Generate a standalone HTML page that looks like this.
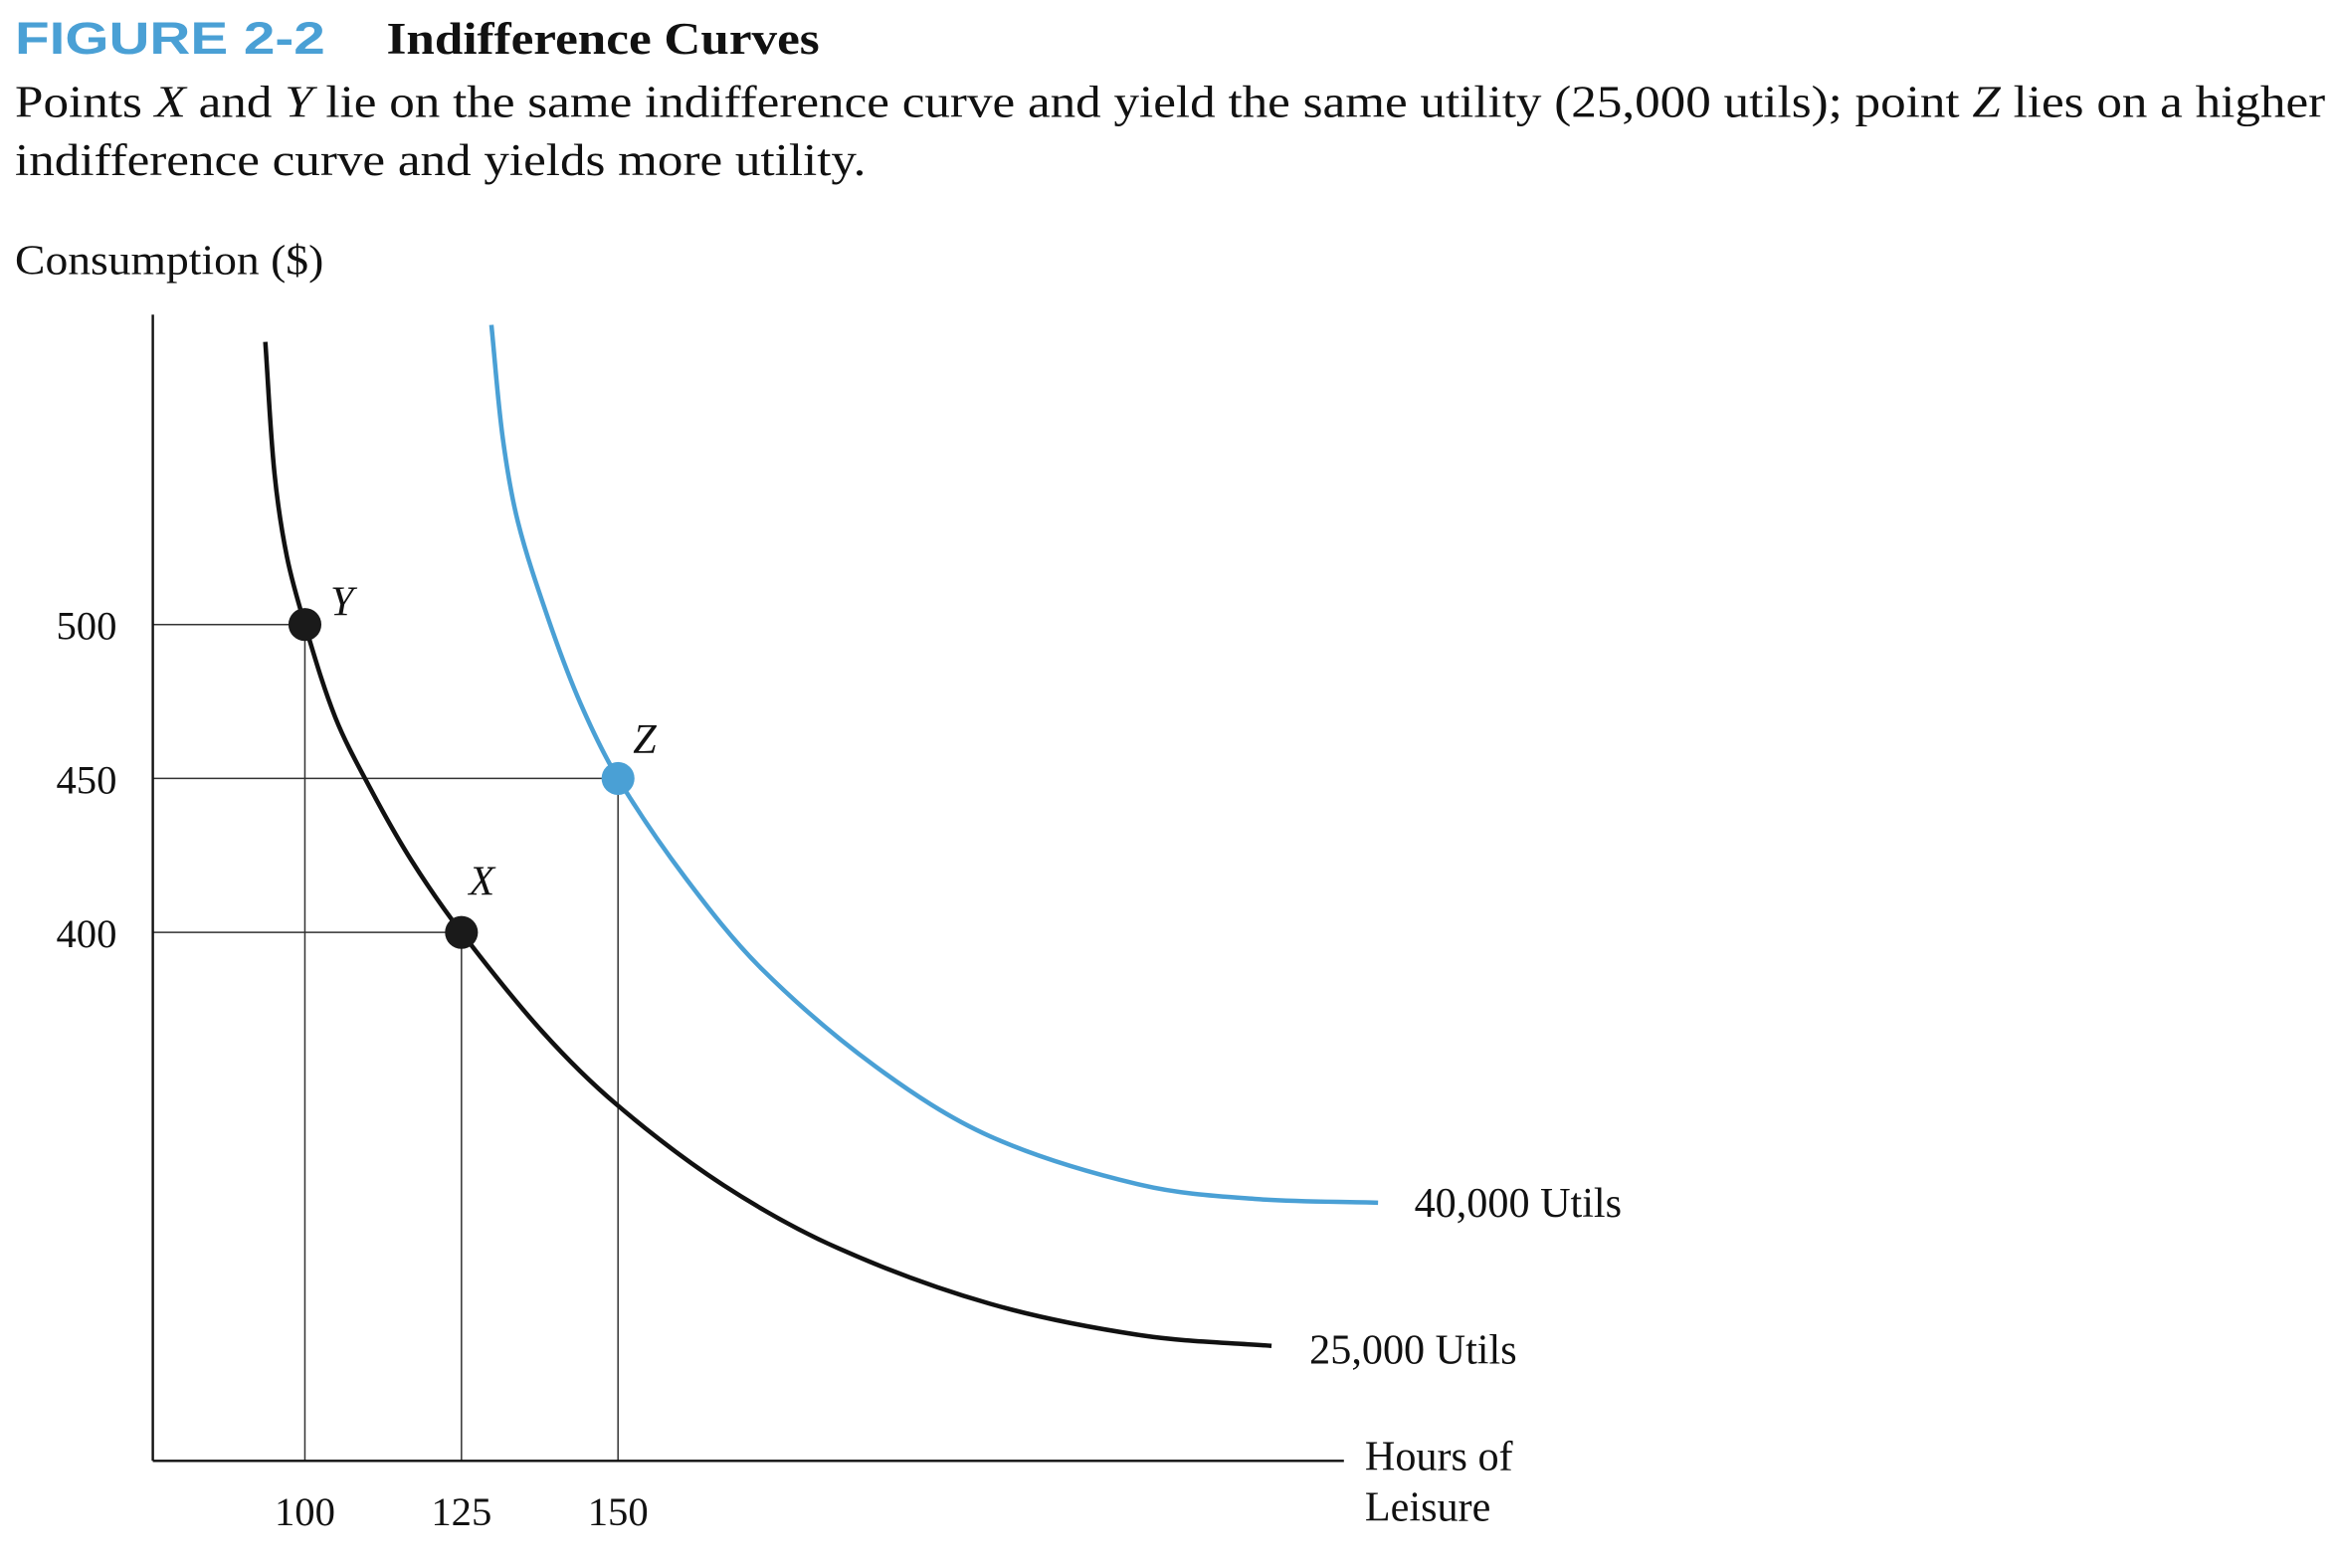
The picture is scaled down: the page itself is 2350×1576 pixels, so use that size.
<!DOCTYPE html>
<html><head><meta charset="utf-8"><style>
html,body{margin:0;padding:0;background:#fff;}
svg{display:block;}
</style></head><body>
<svg id="chart" width="2350" height="1576" viewBox="0 0 1560.5 1046.5" xmlns="http://www.w3.org/2000/svg">
<text x="10" y="36" font-family="Liberation Sans, sans-serif" font-weight="bold" font-size="30" fill="#4aa0d5" textLength="207" lengthAdjust="spacingAndGlyphs">FIGURE 2-2</text>
<text x="258" y="36" font-family="Liberation Serif, serif" font-weight="bold" font-size="30" fill="#111" textLength="289" lengthAdjust="spacingAndGlyphs">Indifference Curves</text>
<text x="10" y="78" font-family="Liberation Serif, serif" font-size="30" fill="#111" textLength="1542" lengthAdjust="spacingAndGlyphs">Points <tspan font-style="italic">X</tspan> and <tspan font-style="italic">Y</tspan> lie on the same indifference curve and yield the same utility (25,000 utils); point <tspan font-style="italic">Z</tspan> lies on a higher</text>
<text x="10" y="117" font-family="Liberation Serif, serif" font-size="30" fill="#111" textLength="568" lengthAdjust="spacingAndGlyphs">indifference curve and yields more utility.</text>
<text x="10" y="183" font-family="Liberation Serif, serif" font-size="28" fill="#111" textLength="206" lengthAdjust="spacingAndGlyphs">Consumption ($)</text>
<g id="plot"></g>
</svg>
<script>
const xTicks = [100, 125, 150];
const yTicks = [400, 450, 500];
const lowCurveX = [93.68, 95.14, 97.13, 100, 104.86, 110.33, 117.01, 125, 137.9, 149.83, 166.84, 185.07, 209.38, 233.68, 254.35];
const lowCurveY = [591.8, 549.2, 522.0, 500, 469.8, 447.2, 423.4, 400, 367.8, 344.0, 317.9, 297.5, 279.4, 269.1, 265.7];
const highCurveX = [129.78, 131.6, 134.02, 138.9, 144.0, 150, 160.77, 172.92, 191.15, 209.38, 233.68, 251.91, 271.36];
const highCurveY = [597.3, 560.5, 533.3, 501.6, 474.4, 450, 417.7, 388.2, 356.4, 333.8, 317.9, 313.4, 312.2];
const pointNames = ['Y', 'X', 'Z'];
const pointX = [100, 125, 150];
const pointY = [500, 400, 450];
const curveLabels = ['25,000 Utils', '40,000 Utils'];

const NS = 'http://www.w3.org/2000/svg';
const plot = document.getElementById('plot');
const BLUE = '#4aa0d5';
const X0 = 102, YB = 975;
function sx(v){ return 203.5 + (v - 100) * 4.18; }
function sy(v){ return 416.8 + (500 - v) * 2.055; }
function mk(tag, attrs){ const e = document.createElementNS(NS, tag); for (const k in attrs) e.setAttribute(k, attrs[k]); plot.appendChild(e); return e; }
function smooth(xs, ys){
  const p = xs.map((x,i)=>[sx(x), sy(ys[i])]);
  let d = 'M' + p[0][0] + ',' + p[0][1];
  for (let i=0;i<p.length-1;i++){
    const p0=p[Math.max(0,i-1)], p1=p[i], p2=p[i+1], p3=p[Math.min(p.length-1,i+2)];
    const d01=Math.hypot(p1[0]-p0[0],p1[1]-p0[1])||1, d12=Math.hypot(p2[0]-p1[0],p2[1]-p1[1]), d23=Math.hypot(p3[0]-p2[0],p3[1]-p2[1])||1;
    const t1=[(p2[0]-p0[0])/(d01+d12)*d12/3,(p2[1]-p0[1])/(d01+d12)*d12/3];
    const t2=[(p3[0]-p1[0])/(d12+d23)*d12/3,(p3[1]-p1[1])/(d12+d23)*d12/3];
    d += ' C'+(p1[0]+t1[0])+','+(p1[1]+t1[1])+' '+(p2[0]-t2[0])+','+(p2[1]-t2[1])+' '+p2[0]+','+p2[1];
  }
  return d;
}
pointX.forEach((v,i)=>{
  let g = mk('line',{x1:X0,y1:sy(pointY[i]),x2:sx(v),y2:sy(pointY[i]),stroke:'#333','stroke-width':1});
  
  
  g = mk('line',{x1:sx(v),y1:sy(pointY[i]),x2:sx(v),y2:YB,stroke:'#333','stroke-width':1});
  
  
});
let ax = mk('line',{x1:X0,y1:210,x2:X0,y2:YB,stroke:'#111','stroke-width':1.6});


ax = mk('line',{x1:X0,y1:YB,x2:897,y2:YB,stroke:'#111','stroke-width':1.6});


let c = mk('path',{d:smooth(lowCurveX, lowCurveY),fill:'none',stroke:'#111','stroke-width':3});


c = mk('path',{d:smooth(highCurveX, highCurveY),fill:'none',stroke:BLUE,'stroke-width':3});


yTicks.forEach(v=>{
  const t = mk('text',{x:78,y:sy(v)+10,'text-anchor':'end','font-family':'Liberation Serif, serif','font-size':27,fill:'#111'});
  t.textContent = v;
  
  
});
xTicks.forEach(v=>{
  const t = mk('text',{x:sx(v),y:1018,'text-anchor':'middle','font-family':'Liberation Serif, serif','font-size':27,fill:'#111'});
  t.textContent = v;
  
  
});
const labelOff = [[17,-6],[5,-25],[10,-17]];
pointX.forEach((v,i)=>{
  const p = mk('circle',{cx:sx(v),cy:sy(pointY[i]),r:11,fill:pointNames[i]==='Z'?BLUE:'#1a1a1a'});
  
  
  const t = mk('text',{x:sx(v)+labelOff[i][0],y:sy(pointY[i])+labelOff[i][1],'font-family':'Liberation Serif, serif','font-style':'italic','font-size':28,fill:'#111'});
  t.textContent = pointNames[i];
  
  
});
let l = mk('text',{x:874,y:910,'font-family':'Liberation Serif, serif','font-size':28,fill:'#111'});
l.textContent = curveLabels[0];


l = mk('text',{x:944,y:812,'font-family':'Liberation Serif, serif','font-size':28,fill:'#111'});
l.textContent = curveLabels[1];


l = mk('text',{x:911,y:981,'font-family':'Liberation Serif, serif','font-size':28,fill:'#111'});
l.textContent = 'Hours of';


l = mk('text',{x:911,y:1015,'font-family':'Liberation Serif, serif','font-size':28,fill:'#111'});
l.textContent = 'Leisure';


</script>
</body></html>
